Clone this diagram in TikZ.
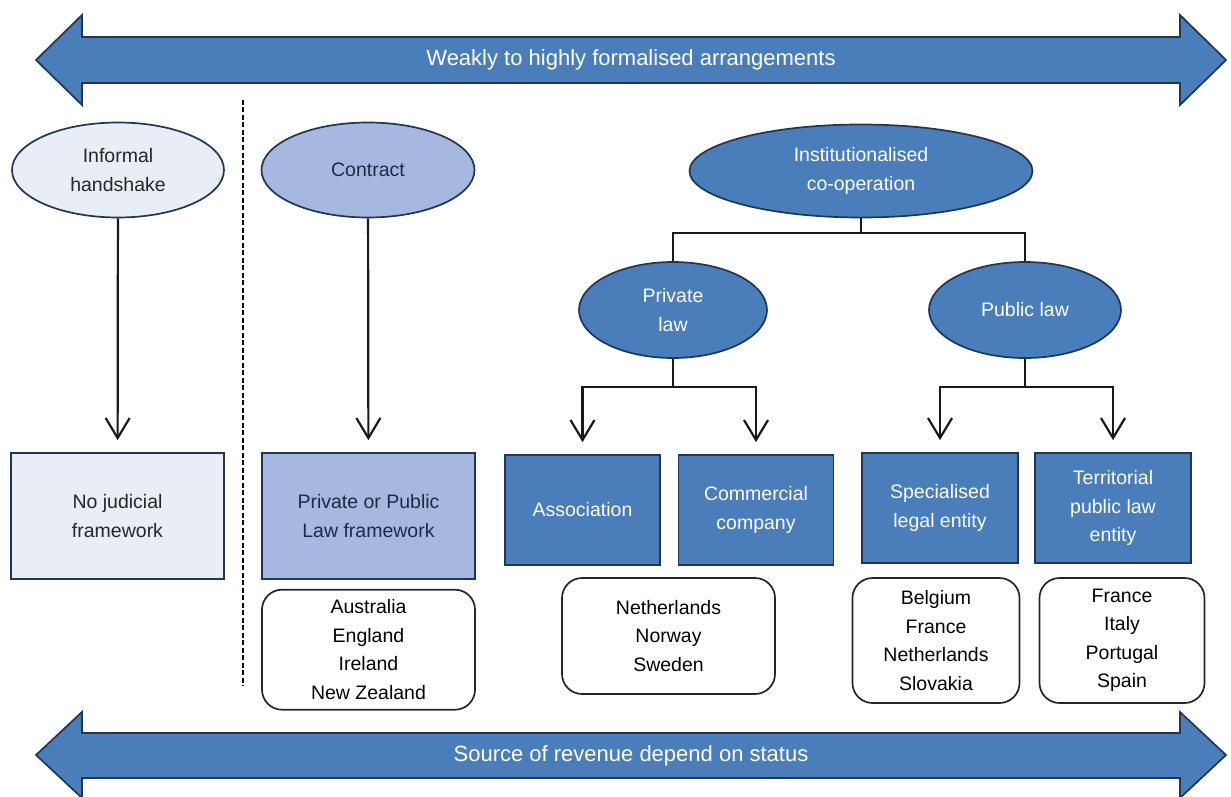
\documentclass[tikz,border=0pt]{standalone}
\usepackage{fontspec}
\setmainfont{Liberation Sans}
\usepackage{xcolor}
\usetikzlibrary{shapes.geometric,arrows.meta,positioning,calc}

\definecolor{midblue}{HTML}{4A7EBB}
\definecolor{paleblue}{HTML}{E9EDF6}
\definecolor{lilacblue}{HTML}{A7B8E0}
\definecolor{inkblue}{HTML}{1C2A48}
\definecolor{rimblue}{HTML}{1F3657}

\begin{document}
\begin{tikzpicture}[
    x=1pt, y=-1pt,
    every node/.style={font=\fontsize{19.5}{28.5}\selectfont, align=center, inner sep=0pt},
    blob/.style={ellipse, draw=rimblue, line width=1.7pt},
    box/.style={rectangle, draw=rimblue, line width=1.7pt},
    list/.style={rectangle, rounded corners=20pt, draw=black!85, line width=1.7pt, fill=white, text=black},
    blue/.style={fill=midblue, text=white},
    link/.style={line width=2.2pt, black!90},
    arrow/.style={link, -{Straight Barb[length=20pt, width=24pt]}, shorten >=12pt},
    band/.style={fill=midblue, draw=rimblue, line width=1.7pt},
    bandtext/.style={font=\fontsize{22}{26}\selectfont, text=white}
]
\useasboundingbox (0,0) rectangle (1231,797);

% top and bottom bands
\filldraw[band] (36,60) -- (82,15) -- (82,37) -- (1180,37) -- (1180,15) -- (1226,60)
    -- (1180,105) -- (1180,83) -- (82,83) -- (82,105) -- cycle;
\node[bandtext] (formal) at (631,60) {Weakly to highly formalised arrangements};
\filldraw[band] (36,755) -- (82,712) -- (82,733) -- (1180,733) -- (1180,712) -- (1226,755)
    -- (1180,798) -- (1180,778) -- (82,778) -- (82,798) -- cycle;
\node[bandtext] (revenue) at (631,756) {Source of revenue depend on status};

% divider
\coordinate (dtop) at (243,100);
\coordinate (dbot) at (243,686);
\draw[line width=2.4pt, dash pattern=on 5pt off 2.5pt] (dtop) -- (dbot);

% left side
\node[blob, fill=paleblue, text=black!85, minimum width=212pt, minimum height=95pt] (informal) at (118,170) {Informal\\handshake};
\node[blob, fill=lilacblue, text=inkblue, minimum width=213pt, minimum height=95pt] (contract) at (368,170) {Contract};
\node[box, fill=paleblue, text=black!85, minimum width=213pt, minimum height=126pt] (nojudicial) at (117.5,516) {No judicial\\framework};
\node[box, fill=lilacblue, text=inkblue, minimum width=213pt, minimum height=126pt] (lawframe) at (368.5,516) {Private or Public\\Law framework};
\node[list, minimum width=213pt, minimum height=120pt, below=9pt of lawframe] (anglo) {Australia\\England\\Ireland\\New Zealand};

% institutional tree
\node[blob, blue, minimum width=343pt, minimum height=93pt] (instit) at (861,171) {Institutionalised\\co-operation};
\node[blob, blue, minimum width=188pt, minimum height=96pt] (privlaw) at (673,310) {Private\\law};
\node[blob, blue, minimum width=192pt, minimum height=96pt] (publaw) at (1025,310) {Public law};

\node[box, blue, minimum width=155pt, minimum height=110pt] (assoc) at (582.5,510) {Association};
\node[box, blue, minimum width=155pt, minimum height=110pt] (company) at (756,510) {Commercial\\company};
\node[box, blue, minimum width=156pt, minimum height=110pt] (special) at (940,508) {Specialised\\legal entity};
\node[box, blue, minimum width=156pt, minimum height=110pt] (territ) at (1113,508) {Territorial\\public law\\entity};

\node[list, minimum width=213pt, minimum height=116pt] (nordic) at (668.5,636) {Netherlands\\Norway\\Sweden};
\node[list, minimum width=167pt, minimum height=125pt] (specland) at (936,640.5) {Belgium\\France\\Netherlands\\Slovakia};
\node[list, minimum width=165pt, minimum height=125pt] (territland) at (1122,640.5) {France\\Italy\\Portugal\\Spain};

% connectors
\draw[arrow] (informal) -- (nojudicial);
\draw[arrow] (contract) -- (lawframe);

\coordinate (instfork) at (861,233);
\coordinate (privfork) at (673,387);
\coordinate (pubfork) at (1025,387);
\draw[link] (instit) -- (instfork) -| (privlaw);
\draw[link] (instfork) -| (publaw);
\draw[link] (privlaw) -- (privfork);
\draw[link] (publaw) -- (pubfork);
\draw[arrow] (privfork) -| (assoc);
\draw[arrow] (privfork) -| (company);
\draw[arrow] (pubfork) -| (special);
\draw[arrow] (pubfork) -| (territ);

\end{tikzpicture}
\end{document}
